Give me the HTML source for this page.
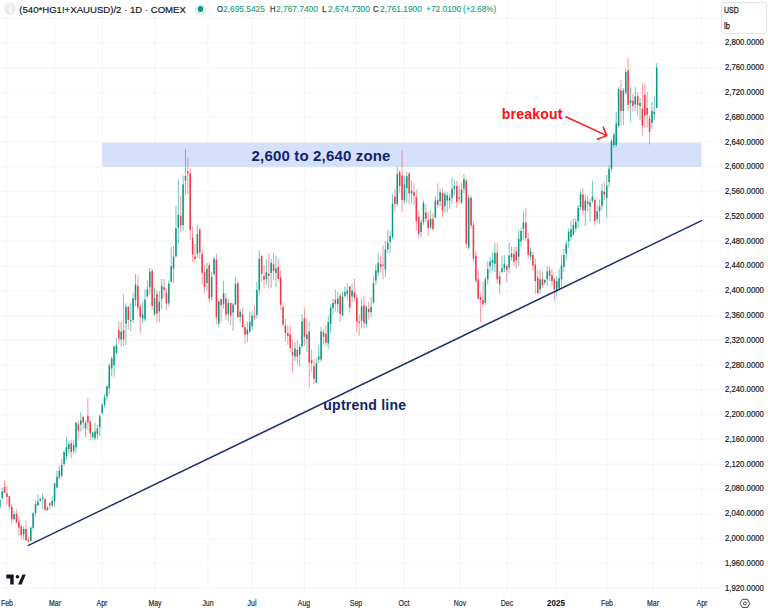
<!DOCTYPE html>
<html><head><meta charset="utf-8"><style>
html,body{margin:0;padding:0;background:#fff;width:768px;height:610px;overflow:hidden;position:relative;font-family:"Liberation Sans",sans-serif;}
</style></head><body>
<svg width="768" height="610" style="position:absolute;left:0;top:0">
<path d="M6.5 0V593 M54.5 0V593 M102.3 0V593 M154.6 0V593 M207.9 0V593 M252.3 0V593 M304.3 0V593 M356.3 0V593 M404.3 0V593 M459.8 0V593 M507.2 0V593 M556.3 0V593 M606.8 0V593 M652.6 0V593 M701.6 0V593 M0 18.22H718 M0 43.00H718 M0 67.78H718 M0 92.56H718 M0 117.34H718 M0 142.12H718 M0 166.90H718 M0 191.68H718 M0 216.46H718 M0 241.24H718 M0 266.02H718 M0 290.80H718 M0 315.58H718 M0 340.36H718 M0 365.14H718 M0 389.92H718 M0 414.70H718 M0 439.48H718 M0 464.26H718 M0 489.04H718 M0 513.82H718 M0 538.60H718 M0 563.38H718 M0 588.16H718" stroke="#f7f7f8" stroke-width="1.3" fill="none"/>
<rect x="102.1" y="142.7" width="599.2" height="24.3" fill="#d5e1fb"/>
<path d="M-0.66 498.90h1.0v9.10h-1.0z M1.72 487.70h1.0v11.80h-1.0z M13.62 511.30h1.0v9.20h-1.0z M23.14 526.40h1.0v13.20h-1.0z M30.28 526.40h1.0v15.10h-1.0z M32.66 512.00h1.0v18.40h-1.0z M35.04 500.20h1.0v16.40h-1.0z M37.42 494.30h1.0v11.70h-1.0z M39.80 497.60h1.0v4.40h-1.0z M42.18 493.00h1.0v16.40h-1.0z M46.94 506.00h1.0v4.70h-1.0z M51.70 495.40h1.0v11.80h-1.0z M54.08 482.60h1.0v23.60h-1.0z M56.46 470.80h1.0v16.70h-1.0z M58.84 465.90h1.0v13.70h-1.0z M61.22 459.00h1.0v18.70h-1.0z M63.60 450.10h1.0v15.80h-1.0z M65.98 437.30h1.0v22.70h-1.0z M68.36 441.30h1.0v12.70h-1.0z M73.11 440.30h1.0v13.70h-1.0z M75.49 422.60h1.0v30.40h-1.0z M80.25 411.70h1.0v19.70h-1.0z M85.01 420.60h1.0v16.70h-1.0z M92.15 431.40h1.0v6.90h-1.0z M94.53 422.60h1.0v17.70h-1.0z M96.91 425.00h1.0v14.40h-1.0z M99.29 414.00h1.0v22.00h-1.0z M101.67 402.90h1.0v11.10h-1.0z M104.05 394.00h1.0v13.30h-1.0z M106.43 385.20h1.0v15.50h-1.0z M108.81 363.00h1.0v31.00h-1.0z M111.19 356.50h1.0v19.90h-1.0z M113.57 345.40h1.0v32.10h-1.0z M115.95 337.70h1.0v16.50h-1.0z M120.71 322.00h1.0v24.50h-1.0z M125.47 303.20h1.0v42.20h-1.0z M130.23 303.20h1.0v27.80h-1.0z M132.61 292.70h1.0v30.00h-1.0z M134.99 274.00h1.0v32.00h-1.0z M142.13 301.80h1.0v20.90h-1.0z M144.51 289.20h1.0v32.10h-1.0z M146.89 280.20h1.0v17.40h-1.0z M149.27 267.70h1.0v27.10h-1.0z M154.03 287.20h1.0v28.50h-1.0z M158.79 291.30h1.0v30.70h-1.0z M161.17 278.90h1.0v29.90h-1.0z M168.31 280.30h1.0v26.40h-1.0z M170.69 246.80h1.0v35.60h-1.0z M173.07 246.10h1.0v36.90h-1.0z M175.45 205.90h1.0v50.50h-1.0z M177.83 179.30h1.0v63.90h-1.0z M182.59 175.40h1.0v55.40h-1.0z M184.97 149.20h1.0v45.20h-1.0z M196.87 224.90h1.0v32.80h-1.0z M206.39 262.90h1.0v28.20h-1.0z M211.15 272.10h1.0v28.60h-1.0z M213.53 256.50h1.0v19.10h-1.0z M218.29 298.50h1.0v28.80h-1.0z M223.05 280.80h1.0v28.00h-1.0z M227.81 299.20h1.0v22.20h-1.0z M232.57 303.00h1.0v28.00h-1.0z M234.95 277.10h1.0v28.00h-1.0z M239.71 309.60h1.0v13.20h-1.0z M246.85 321.40h1.0v20.60h-1.0z M249.23 311.80h1.0v21.40h-1.0z M251.61 311.40h1.0v19.10h-1.0z M256.37 281.90h1.0v36.80h-1.0z M258.75 250.20h1.0v44.20h-1.0z M265.89 259.00h1.0v25.80h-1.0z M270.65 259.00h1.0v28.80h-1.0z M275.41 255.30h1.0v31.70h-1.0z M294.45 341.90h1.0v19.10h-1.0z M299.21 344.10h1.0v22.90h-1.0z M301.59 314.60h1.0v33.20h-1.0z M306.35 318.30h1.0v33.90h-1.0z M315.86 358.80h1.0v24.40h-1.0z M318.24 344.80h1.0v18.50h-1.0z M320.62 327.10h1.0v34.70h-1.0z M327.76 316.10h1.0v33.10h-1.0z M330.14 304.30h1.0v28.90h-1.0z M332.52 298.40h1.0v16.40h-1.0z M337.28 291.90h1.0v20.90h-1.0z M342.04 291.20h1.0v24.90h-1.0z M344.42 286.60h1.0v11.20h-1.0z M346.80 283.30h1.0v17.10h-1.0z M351.56 283.30h1.0v19.10h-1.0z M361.08 298.40h1.0v30.20h-1.0z M365.84 305.00h1.0v22.90h-1.0z M370.60 297.10h1.0v20.30h-1.0z M372.98 276.10h1.0v27.60h-1.0z M375.36 264.80h1.0v19.90h-1.0z M377.74 252.90h1.0v23.00h-1.0z M384.88 241.10h1.0v36.20h-1.0z M387.26 229.90h1.0v23.70h-1.0z M389.64 231.30h1.0v21.60h-1.0z M392.02 194.30h1.0v44.70h-1.0z M396.78 167.20h1.0v39.00h-1.0z M403.92 175.50h1.0v27.90h-1.0z M406.30 172.00h1.0v30.70h-1.0z M411.06 180.40h1.0v23.00h-1.0z M420.58 219.50h1.0v18.10h-1.0z M422.96 200.60h1.0v24.40h-1.0z M430.10 210.30h1.0v18.90h-1.0z M434.86 195.70h1.0v23.00h-1.0z M439.62 188.70h1.0v17.50h-1.0z M444.38 191.50h1.0v21.50h-1.0z M446.76 192.20h1.0v20.20h-1.0z M449.14 193.60h1.0v15.30h-1.0z M451.52 177.50h1.0v26.50h-1.0z M453.90 180.30h1.0v15.30h-1.0z M461.04 183.10h1.0v20.90h-1.0z M463.42 174.00h1.0v19.60h-1.0z M468.18 194.20h1.0v55.50h-1.0z M484.84 276.30h1.0v28.80h-1.0z M487.22 261.50h1.0v22.90h-1.0z M489.60 256.40h1.0v16.90h-1.0z M491.98 252.70h1.0v18.40h-1.0z M494.36 243.10h1.0v28.80h-1.0z M501.50 255.60h1.0v17.70h-1.0z M503.88 254.90h1.0v17.00h-1.0z M508.64 242.40h1.0v30.90h-1.0z M511.02 246.80h1.0v14.00h-1.0z M518.16 230.10h1.0v35.30h-1.0z M520.54 227.50h1.0v19.00h-1.0z M522.92 211.20h1.0v28.40h-1.0z M530.06 247.30h1.0v12.90h-1.0z M539.58 270.60h1.0v23.20h-1.0z M544.34 279.20h1.0v6.00h-1.0z M546.72 266.30h1.0v19.80h-1.0z M556.23 275.70h1.0v20.70h-1.0z M558.61 268.80h1.0v22.40h-1.0z M560.99 255.10h1.0v31.80h-1.0z M563.37 249.10h1.0v23.20h-1.0z M565.75 240.40h1.0v19.80h-1.0z M568.13 228.40h1.0v19.80h-1.0z M570.51 220.70h1.0v19.70h-1.0z M572.89 218.90h1.0v17.20h-1.0z M575.27 218.20h1.0v14.00h-1.0z M577.65 205.00h1.0v23.00h-1.0z M580.03 190.40h1.0v20.20h-1.0z M584.79 194.60h1.0v31.30h-1.0z M589.55 198.70h1.0v23.00h-1.0z M591.93 180.60h1.0v22.30h-1.0z M596.69 205.70h1.0v16.70h-1.0z M599.07 199.40h1.0v24.40h-1.0z M601.45 184.10h1.0v25.80h-1.0z M606.21 175.10h1.0v43.10h-1.0z M608.59 165.30h1.0v22.30h-1.0z M610.97 139.10h1.0v32.50h-1.0z M613.35 132.60h1.0v14.70h-1.0z M615.73 111.80h1.0v35.50h-1.0z M618.11 86.70h1.0v40.60h-1.0z M622.87 88.20h1.0v36.80h-1.0z M625.25 69.00h1.0v25.80h-1.0z M630.01 86.70h1.0v34.70h-1.0z M634.77 86.70h1.0v24.30h-1.0z M639.53 97.80h1.0v22.10h-1.0z M651.43 102.20h1.0v26.50h-1.0z M653.81 96.30h1.0v23.60h-1.0z M656.19 63.10h1.0v45.00h-1.0z" fill="#089981" fill-opacity="0.55"/>
<path d="M4.10 480.50h1.0v12.50h-1.0z M6.48 485.70h1.0v19.10h-1.0z M8.86 495.60h1.0v14.40h-1.0z M11.24 504.10h1.0v19.70h-1.0z M16.00 509.40h1.0v13.70h-1.0z M18.38 516.00h1.0v19.60h-1.0z M20.76 524.50h1.0v15.10h-1.0z M25.52 520.50h1.0v20.40h-1.0z M27.90 536.30h1.0v5.90h-1.0z M44.56 498.20h1.0v13.10h-1.0z M49.32 502.30h1.0v6.90h-1.0z M70.73 440.30h1.0v17.70h-1.0z M77.87 420.60h1.0v17.70h-1.0z M82.63 415.70h1.0v13.70h-1.0z M87.39 398.00h1.0v32.40h-1.0z M89.77 420.60h1.0v19.70h-1.0z M118.33 321.30h1.0v22.30h-1.0z M123.09 294.00h1.0v52.00h-1.0z M127.85 306.00h1.0v23.60h-1.0z M137.37 275.30h1.0v36.20h-1.0z M139.75 303.90h1.0v29.90h-1.0z M151.65 268.40h1.0v41.70h-1.0z M156.41 290.60h1.0v32.10h-1.0z M163.55 278.90h1.0v18.80h-1.0z M165.93 287.90h1.0v22.30h-1.0z M180.21 195.70h1.0v37.10h-1.0z M187.35 157.70h1.0v36.00h-1.0z M189.73 167.50h1.0v72.50h-1.0z M192.11 226.20h1.0v36.10h-1.0z M194.49 243.90h1.0v18.40h-1.0z M199.25 227.50h1.0v31.50h-1.0z M201.63 249.10h1.0v35.40h-1.0z M204.01 265.50h1.0v27.80h-1.0z M208.77 262.90h1.0v39.30h-1.0z M215.91 253.70h1.0v70.60h-1.0z M220.67 298.50h1.0v23.60h-1.0z M225.43 293.30h1.0v26.60h-1.0z M230.19 302.20h1.0v22.80h-1.0z M237.33 280.80h1.0v37.60h-1.0z M242.09 308.10h1.0v19.20h-1.0z M244.47 324.30h1.0v19.20h-1.0z M253.99 305.50h1.0v14.70h-1.0z M261.13 255.30h1.0v26.60h-1.0z M263.51 264.90h1.0v23.60h-1.0z M268.27 253.10h1.0v36.10h-1.0z M273.03 252.40h1.0v28.00h-1.0z M277.79 258.30h1.0v22.80h-1.0z M280.17 270.00h1.0v39.90h-1.0z M282.55 302.50h1.0v24.60h-1.0z M284.93 318.30h1.0v23.60h-1.0z M287.31 325.60h1.0v19.20h-1.0z M289.69 325.60h1.0v26.60h-1.0z M292.07 338.90h1.0v33.90h-1.0z M296.83 339.70h1.0v24.30h-1.0z M303.97 308.00h1.0v37.60h-1.0z M308.73 321.20h1.0v66.40h-1.0z M311.10 349.20h1.0v22.20h-1.0z M313.48 359.60h1.0v25.00h-1.0z M323.00 329.30h1.0v15.50h-1.0z M325.38 324.90h1.0v21.40h-1.0z M334.90 289.20h1.0v22.30h-1.0z M339.66 293.20h1.0v28.80h-1.0z M349.18 286.00h1.0v26.80h-1.0z M353.94 278.80h1.0v22.90h-1.0z M356.32 293.80h1.0v38.70h-1.0z M358.70 314.80h1.0v21.00h-1.0z M363.46 295.80h1.0v32.10h-1.0z M368.22 301.70h1.0v17.70h-1.0z M380.12 255.70h1.0v16.70h-1.0z M382.50 245.30h1.0v34.10h-1.0z M394.40 188.70h1.0v23.00h-1.0z M399.16 170.00h1.0v22.90h-1.0z M401.54 150.40h1.0v62.00h-1.0z M408.68 172.00h1.0v32.80h-1.0z M413.44 183.20h1.0v21.60h-1.0z M415.82 189.40h1.0v41.20h-1.0z M418.20 211.00h1.0v27.30h-1.0z M425.34 204.00h1.0v18.30h-1.0z M427.72 211.70h1.0v23.80h-1.0z M432.48 213.10h1.0v17.90h-1.0z M437.24 183.20h1.0v25.00h-1.0z M442.00 188.00h1.0v29.20h-1.0z M456.28 181.00h1.0v26.50h-1.0z M458.66 185.20h1.0v18.10h-1.0z M465.80 178.20h1.0v70.10h-1.0z M470.56 195.60h1.0v32.80h-1.0z M472.94 220.70h1.0v41.60h-1.0z M475.32 251.20h1.0v32.50h-1.0z M477.70 268.90h1.0v31.00h-1.0z M480.08 292.50h1.0v30.30h-1.0z M482.46 282.20h1.0v25.10h-1.0z M496.74 243.10h1.0v39.90h-1.0z M499.12 271.10h1.0v22.90h-1.0z M506.26 264.50h1.0v17.70h-1.0z M513.40 246.80h1.0v19.20h-1.0z M515.78 246.50h1.0v22.30h-1.0z M525.30 207.70h1.0v33.60h-1.0z M527.68 233.60h1.0v24.90h-1.0z M532.44 251.60h1.0v19.00h-1.0z M534.82 258.50h1.0v35.30h-1.0z M537.20 269.70h1.0v25.00h-1.0z M541.96 271.40h1.0v16.40h-1.0z M549.09 266.30h1.0v14.60h-1.0z M551.47 268.80h1.0v17.30h-1.0z M553.85 277.50h1.0v23.20h-1.0z M582.41 188.30h1.0v26.50h-1.0z M587.17 195.30h1.0v16.00h-1.0z M594.31 197.40h1.0v27.80h-1.0z M603.83 182.00h1.0v18.10h-1.0z M620.49 80.10h1.0v45.70h-1.0z M627.63 58.00h1.0v53.00h-1.0z M632.39 94.10h1.0v17.70h-1.0z M637.15 91.90h1.0v23.60h-1.0z M641.91 83.00h1.0v52.40h-1.0z M644.29 83.80h1.0v43.50h-1.0z M646.67 91.90h1.0v35.40h-1.0z M649.05 115.50h1.0v28.90h-1.0z" fill="#f23645" fill-opacity="0.5"/>
<path d="M-0.91 499.50h1.5v7.90h-1.5z M1.47 491.60h1.5v6.60h-1.5z M13.37 514.00h1.5v5.20h-1.5z M22.89 529.00h1.5v5.30h-1.5z M30.03 527.70h1.5v13.20h-1.5z M32.41 513.30h1.5v14.40h-1.5z M34.79 504.10h1.5v9.20h-1.5z M37.17 501.50h1.5v3.90h-1.5z M39.55 498.90h1.5v1.90h-1.5z M41.93 497.60h1.5v1.30h-1.5z M46.69 508.00h1.5v2.00h-1.5z M51.45 501.30h1.5v3.90h-1.5z M53.83 483.60h1.5v17.70h-1.5z M56.21 476.70h1.5v10.80h-1.5z M58.59 470.80h1.5v6.90h-1.5z M60.97 464.90h1.5v10.80h-1.5z M63.35 452.10h1.5v11.80h-1.5z M65.73 447.20h1.5v8.80h-1.5z M68.11 444.20h1.5v4.90h-1.5z M72.86 445.20h1.5v5.90h-1.5z M75.24 422.60h1.5v24.60h-1.5z M80.00 420.60h1.5v3.90h-1.5z M84.76 422.60h1.5v5.90h-1.5z M91.90 432.40h1.5v4.90h-1.5z M94.28 431.40h1.5v6.90h-1.5z M96.66 428.40h1.5v5.50h-1.5z M99.04 416.20h1.5v11.10h-1.5z M101.42 405.00h1.5v7.90h-1.5z M103.80 397.40h1.5v7.60h-1.5z M106.18 386.30h1.5v10.00h-1.5z M108.56 365.30h1.5v23.20h-1.5z M110.94 358.70h1.5v9.90h-1.5z M113.32 346.50h1.5v18.80h-1.5z M115.70 345.40h1.5v7.70h-1.5z M120.46 331.70h1.5v7.70h-1.5z M125.22 306.70h1.5v16.70h-1.5z M129.98 319.90h1.5v1.40h-1.5z M132.36 298.30h1.5v21.70h-1.5z M134.74 284.40h1.5v15.30h-1.5z M141.88 314.30h1.5v4.20h-1.5z M144.26 299.70h1.5v19.50h-1.5z M146.64 289.20h1.5v7.00h-1.5z M149.02 271.80h1.5v15.40h-1.5z M153.78 298.30h1.5v16.00h-1.5z M158.54 301.80h1.5v9.70h-1.5z M160.92 285.80h1.5v13.20h-1.5z M168.06 283.70h1.5v19.50h-1.5z M170.44 266.30h1.5v15.40h-1.5z M172.82 256.60h1.5v11.80h-1.5z M175.20 228.20h1.5v28.20h-1.5z M177.58 215.00h1.5v12.50h-1.5z M182.34 184.60h1.5v40.30h-1.5z M184.72 176.00h1.5v4.60h-1.5z M196.62 234.00h1.5v19.70h-1.5z M206.14 269.00h1.5v14.00h-1.5z M210.90 277.10h1.5v19.90h-1.5z M213.28 258.70h1.5v15.50h-1.5z M218.04 301.50h1.5v22.10h-1.5z M222.80 293.30h1.5v11.10h-1.5z M227.56 303.00h1.5v11.00h-1.5z M232.32 304.40h1.5v8.10h-1.5z M234.70 283.80h1.5v20.60h-1.5z M239.46 311.80h1.5v5.20h-1.5z M246.60 329.50h1.5v5.10h-1.5z M248.98 322.10h1.5v9.60h-1.5z M251.36 315.80h1.5v10.30h-1.5z M256.12 290.00h1.5v25.00h-1.5z M258.50 259.00h1.5v31.00h-1.5z M265.64 272.30h1.5v6.60h-1.5z M270.40 262.70h1.5v10.30h-1.5z M275.16 268.60h1.5v4.40h-1.5z M294.20 348.50h1.5v8.10h-1.5z M298.96 347.00h1.5v7.40h-1.5z M301.34 321.20h1.5v25.10h-1.5z M306.10 334.50h1.5v4.50h-1.5z M315.61 363.30h1.5v19.10h-1.5z M317.99 356.60h1.5v3.00h-1.5z M320.37 331.50h1.5v28.10h-1.5z M327.51 322.00h1.5v21.30h-1.5z M329.89 307.60h1.5v16.40h-1.5z M332.27 303.00h1.5v5.20h-1.5z M337.03 298.40h1.5v5.90h-1.5z M341.79 296.50h1.5v19.00h-1.5z M344.17 291.90h1.5v3.90h-1.5z M346.55 290.60h1.5v3.20h-1.5z M351.31 290.60h1.5v5.90h-1.5z M360.83 306.30h1.5v14.40h-1.5z M365.59 306.90h1.5v17.10h-1.5z M370.35 307.00h1.5v5.20h-1.5z M372.73 283.30h1.5v19.10h-1.5z M375.11 270.20h1.5v10.50h-1.5z M377.49 262.70h1.5v9.70h-1.5z M384.63 249.40h1.5v20.20h-1.5z M387.01 242.50h1.5v6.90h-1.5z M389.39 236.20h1.5v5.60h-1.5z M391.77 203.40h1.5v33.50h-1.5z M396.53 174.10h1.5v30.00h-1.5z M403.67 184.60h1.5v16.00h-1.5z M406.05 176.20h1.5v11.80h-1.5z M410.81 190.80h1.5v2.80h-1.5z M420.33 222.30h1.5v9.70h-1.5z M422.71 202.80h1.5v19.50h-1.5z M429.85 218.80h1.5v8.40h-1.5z M434.61 200.60h1.5v16.70h-1.5z M439.37 192.20h1.5v9.10h-1.5z M444.13 194.30h1.5v11.90h-1.5z M446.51 195.60h1.5v4.90h-1.5z M448.89 197.70h1.5v2.80h-1.5z M451.27 188.70h1.5v9.00h-1.5z M453.65 185.90h1.5v2.80h-1.5z M460.79 189.40h1.5v13.20h-1.5z M463.17 178.90h1.5v9.80h-1.5z M467.93 197.70h1.5v49.80h-1.5z M484.59 279.20h1.5v23.60h-1.5z M486.97 268.90h1.5v10.30h-1.5z M489.35 261.50h1.5v4.50h-1.5z M491.73 260.10h1.5v2.90h-1.5z M494.11 252.70h1.5v11.10h-1.5z M501.25 268.20h1.5v3.70h-1.5z M503.63 263.80h1.5v4.40h-1.5z M508.39 255.60h1.5v11.80h-1.5z M510.77 253.40h1.5v3.70h-1.5z M517.91 238.70h1.5v18.10h-1.5z M520.29 231.00h1.5v10.30h-1.5z M522.67 222.40h1.5v6.00h-1.5z M529.81 251.60h1.5v5.20h-1.5z M539.33 279.20h1.5v10.30h-1.5z M544.09 280.00h1.5v2.60h-1.5z M546.47 271.40h1.5v7.80h-1.5z M555.98 280.90h1.5v10.30h-1.5z M558.36 278.30h1.5v10.30h-1.5z M560.74 265.40h1.5v13.80h-1.5z M563.12 255.10h1.5v12.00h-1.5z M565.50 243.90h1.5v9.50h-1.5z M567.88 231.80h1.5v9.50h-1.5z M570.26 229.30h1.5v7.70h-1.5z M572.64 225.00h1.5v9.40h-1.5z M575.02 221.70h1.5v7.00h-1.5z M577.40 207.80h1.5v13.20h-1.5z M579.78 193.90h1.5v13.20h-1.5z M584.54 200.80h1.5v9.80h-1.5z M589.30 202.20h1.5v4.20h-1.5z M591.68 196.70h1.5v4.10h-1.5z M596.44 211.30h1.5v7.60h-1.5z M598.82 206.40h1.5v4.90h-1.5z M601.20 191.10h1.5v14.60h-1.5z M605.96 185.50h1.5v12.50h-1.5z M608.34 168.80h1.5v13.20h-1.5z M610.72 141.00h1.5v27.80h-1.5z M613.10 134.60h1.5v10.40h-1.5z M615.48 123.60h1.5v21.40h-1.5z M617.86 88.90h1.5v36.90h-1.5z M622.62 90.40h1.5v20.60h-1.5z M625.00 72.00h1.5v20.60h-1.5z M629.76 100.00h1.5v2.90h-1.5z M634.52 96.30h1.5v8.10h-1.5z M639.28 102.90h1.5v3.00h-1.5z M651.18 111.00h1.5v11.80h-1.5z M653.56 111.80h1.5v2.20h-1.5z M655.94 67.50h1.5v40.60h-1.5z" fill="#089981"/>
<path d="M3.85 487.00h1.5v6.00h-1.5z M6.23 493.60h1.5v3.30h-1.5z M8.61 496.20h1.5v10.50h-1.5z M10.99 506.70h1.5v12.50h-1.5z M15.75 514.00h1.5v8.50h-1.5z M18.13 521.80h1.5v5.90h-1.5z M20.51 526.40h1.5v8.60h-1.5z M25.27 529.00h1.5v11.20h-1.5z M27.65 539.60h1.5v1.90h-1.5z M44.31 498.90h1.5v10.50h-1.5z M49.07 503.30h1.5v1.90h-1.5z M70.48 443.20h1.5v8.90h-1.5z M77.62 424.50h1.5v5.90h-1.5z M82.38 416.70h1.5v5.90h-1.5z M87.14 415.70h1.5v6.90h-1.5z M89.52 421.60h1.5v11.80h-1.5z M118.08 330.30h1.5v8.40h-1.5z M122.84 330.30h1.5v9.10h-1.5z M127.60 306.70h1.5v13.30h-1.5z M137.12 285.80h1.5v21.60h-1.5z M139.50 306.70h1.5v10.40h-1.5z M151.40 271.10h1.5v34.90h-1.5z M156.16 294.10h1.5v19.50h-1.5z M163.30 287.20h1.5v2.80h-1.5z M165.68 292.80h1.5v10.40h-1.5z M179.96 215.70h1.5v9.90h-1.5z M187.10 171.50h1.5v1.90h-1.5z M189.48 173.40h1.5v56.70h-1.5z M191.86 237.40h1.5v17.00h-1.5z M194.24 256.40h1.5v2.60h-1.5z M199.00 229.50h1.5v22.90h-1.5z M201.38 253.70h1.5v19.00h-1.5z M203.76 272.00h1.5v14.70h-1.5z M208.52 265.30h1.5v33.20h-1.5z M215.66 259.40h1.5v57.60h-1.5z M220.42 299.20h1.5v5.90h-1.5z M225.18 298.50h1.5v16.20h-1.5z M229.94 303.00h1.5v12.50h-1.5z M237.08 283.00h1.5v34.00h-1.5z M241.84 314.00h1.5v13.30h-1.5z M244.22 327.30h1.5v7.30h-1.5z M253.74 315.80h1.5v1.50h-1.5z M260.88 256.10h1.5v17.70h-1.5z M263.26 276.00h1.5v3.70h-1.5z M268.02 273.80h1.5v2.20h-1.5z M272.78 264.20h1.5v6.60h-1.5z M277.54 267.10h1.5v11.80h-1.5z M279.92 277.40h1.5v27.30h-1.5z M282.30 307.00h1.5v17.20h-1.5z M284.68 325.60h1.5v7.40h-1.5z M287.06 333.00h1.5v3.00h-1.5z M289.44 334.50h1.5v13.30h-1.5z M291.82 352.20h1.5v2.90h-1.5z M296.58 350.00h1.5v6.60h-1.5z M303.72 318.30h1.5v18.40h-1.5z M308.48 331.50h1.5v31.00h-1.5z M310.85 360.30h1.5v3.00h-1.5z M313.23 366.20h1.5v12.50h-1.5z M322.75 332.30h1.5v4.40h-1.5z M325.13 333.80h1.5v8.80h-1.5z M334.65 299.70h1.5v4.00h-1.5z M339.41 295.80h1.5v18.30h-1.5z M348.93 286.60h1.5v21.00h-1.5z M353.69 292.50h1.5v5.30h-1.5z M356.07 297.80h1.5v23.60h-1.5z M358.45 321.40h1.5v1.30h-1.5z M363.21 305.60h1.5v17.10h-1.5z M367.97 308.90h1.5v3.30h-1.5z M379.87 264.00h1.5v2.90h-1.5z M382.25 264.65h1.5v1.00h-1.5z M394.15 196.40h1.5v7.70h-1.5z M398.91 172.00h1.5v14.00h-1.5z M401.29 175.50h1.5v24.40h-1.5z M408.43 173.40h1.5v20.20h-1.5z M413.19 192.20h1.5v3.50h-1.5z M415.57 197.10h1.5v23.80h-1.5z M417.95 216.70h1.5v17.40h-1.5z M425.09 212.40h1.5v6.30h-1.5z M427.47 220.20h1.5v7.70h-1.5z M432.23 218.70h1.5v10.30h-1.5z M436.99 199.90h1.5v4.90h-1.5z M441.75 192.90h1.5v18.10h-1.5z M456.03 185.90h1.5v16.00h-1.5z M458.41 197.70h1.5v1.40h-1.5z M465.55 181.00h1.5v62.80h-1.5z M470.31 197.70h1.5v27.90h-1.5z M472.69 224.90h1.5v33.70h-1.5z M475.07 255.60h1.5v25.10h-1.5z M477.45 279.20h1.5v19.20h-1.5z M479.83 297.00h1.5v2.90h-1.5z M482.21 299.90h1.5v4.40h-1.5z M496.49 252.70h1.5v26.50h-1.5z M498.87 276.30h1.5v8.10h-1.5z M506.01 266.00h1.5v3.70h-1.5z M513.15 254.20h1.5v7.30h-1.5z M515.53 251.60h1.5v8.60h-1.5z M525.05 222.40h1.5v15.50h-1.5z M527.43 238.70h1.5v16.40h-1.5z M532.19 255.10h1.5v10.30h-1.5z M534.57 264.50h1.5v16.40h-1.5z M536.95 277.50h1.5v15.40h-1.5z M541.71 279.20h1.5v6.00h-1.5z M548.84 270.60h1.5v5.10h-1.5z M551.22 274.90h1.5v6.00h-1.5z M553.60 279.20h1.5v10.30h-1.5z M582.16 194.60h1.5v16.00h-1.5z M586.92 201.50h1.5v2.80h-1.5z M594.06 200.10h1.5v20.90h-1.5z M603.58 191.80h1.5v2.80h-1.5z M620.24 90.40h1.5v20.60h-1.5z M627.38 70.50h1.5v34.60h-1.5z M632.14 100.70h1.5v5.20h-1.5z M636.90 96.30h1.5v8.80h-1.5z M641.66 108.80h1.5v17.00h-1.5z M644.04 94.80h1.5v20.70h-1.5z M646.42 108.10h1.5v6.60h-1.5z M648.80 118.40h1.5v13.30h-1.5z" fill="#f23645"/>
<line x1="28.4" y1="545.4" x2="701.6" y2="220.7" stroke="#1c2f6c" stroke-width="1.45" stroke-linecap="round"/>
<path d="M565.8 116.7L606.8 135.6M603.4 127.1L606.8 135.6L597.4 139.3" stroke="#ff1a1a" stroke-width="1.5" fill="none" stroke-linecap="round" stroke-linejoin="round"/>
<g transform="translate(744.9,603.4)" fill="none" stroke="#2a2e39" stroke-width="0.85">
<path d="M-2.6 -4.1H2.6L4.8 0L2.6 4.1H-2.6L-4.8 0Z"/><circle r="1.5"/></g>
</svg>
<svg width="14" height="14" style="position:absolute;left:3.4px;top:2px" viewBox="0 0 14 14"><circle cx="6.95" cy="7" r="5.9" fill="#ebebeb"/><path d="M8.2 3.9Q6.2 7.4 8.2 11" stroke="#fff" stroke-width="1.1" fill="none" stroke-linecap="round"/></svg>
<div style="position:absolute;left:19.30px;top:4.57px;font-size:9.6px;line-height:9.6px;font-weight:normal;color:#131722;white-space:nowrap;-webkit-text-stroke:0.18px #131722;">(540*HG1!+XAUUSD)/2 · 1D · COMEX</div>

<div style="position:absolute;left:195px;top:3.5px;width:11px;height:11px;border-radius:50%;background:rgba(8,153,129,0.15)"></div>
<div style="position:absolute;left:197.8px;top:6.3px;width:5.5px;height:5.5px;border-radius:50%;background:#089981"></div>
<div style="position:absolute;left:216.50px;top:4.98px;font-size:9px;line-height:9px;font-weight:normal;color:#3a3d47;white-space:nowrap;transform:scaleX(0.85);transform-origin:0 0;-webkit-text-stroke:0.25px #3a3d47;">O</div>
<div style="position:absolute;left:223.20px;top:4.98px;font-size:9px;line-height:9px;font-weight:normal;color:#089981;white-space:nowrap;transform:scaleX(0.93);transform-origin:0 0;-webkit-text-stroke:0.08px #089981;">2,695.5425</div>
<div style="position:absolute;left:269.80px;top:4.98px;font-size:9px;line-height:9px;font-weight:normal;color:#3a3d47;white-space:nowrap;transform:scaleX(0.85);transform-origin:0 0;-webkit-text-stroke:0.25px #3a3d47;">H</div>
<div style="position:absolute;left:276.00px;top:4.98px;font-size:9px;line-height:9px;font-weight:normal;color:#089981;white-space:nowrap;transform:scaleX(0.93);transform-origin:0 0;-webkit-text-stroke:0.08px #089981;">2,767.7400</div>
<div style="position:absolute;left:322.40px;top:4.98px;font-size:9px;line-height:9px;font-weight:normal;color:#3a3d47;white-space:nowrap;transform:scaleX(0.95);transform-origin:0 0;-webkit-text-stroke:0.25px #3a3d47;">L</div>
<div style="position:absolute;left:328.00px;top:4.98px;font-size:9px;line-height:9px;font-weight:normal;color:#089981;white-space:nowrap;transform:scaleX(0.93);transform-origin:0 0;-webkit-text-stroke:0.08px #089981;">2,674.7300</div>
<div style="position:absolute;left:373.10px;top:4.98px;font-size:9px;line-height:9px;font-weight:normal;color:#3a3d47;white-space:nowrap;transform:scaleX(0.85);transform-origin:0 0;-webkit-text-stroke:0.25px #3a3d47;">C</div>
<div style="position:absolute;left:379.50px;top:4.98px;font-size:9px;line-height:9px;font-weight:normal;color:#089981;white-space:nowrap;transform:scaleX(0.93);transform-origin:0 0;-webkit-text-stroke:0.08px #089981;">2,761.1900</div>
<div style="position:absolute;left:425.80px;top:4.98px;font-size:9px;line-height:9px;font-weight:normal;color:#089981;white-space:nowrap;transform:scaleX(0.93);transform-origin:0 0;-webkit-text-stroke:0.08px #089981;">+72.0100</div>
<div style="position:absolute;left:463.00px;top:4.98px;font-size:9px;line-height:9px;font-weight:normal;color:#089981;white-space:nowrap;transform:scaleX(0.9);transform-origin:0 0;-webkit-text-stroke:0.08px #089981;">(+2.68%)</div>

<div style="position:absolute;left:721.3px;top:1.6px;width:45.7px;height:32.3px;border:1px solid #e0e3eb;border-radius:3px;box-sizing:border-box"></div>
<div style="position:absolute;left:723.60px;top:5.85px;font-size:8.8px;line-height:8.8px;font-weight:normal;color:#131722;white-space:nowrap;transform:scaleX(0.8);transform-origin:0 0;-webkit-text-stroke:0.25px #131722;">USD</div>

<div style="position:absolute;left:723.80px;top:21.55px;font-size:8.8px;line-height:8.8px;font-weight:normal;color:#131722;white-space:nowrap;transform:scaleX(0.85);transform-origin:0 0;-webkit-text-stroke:0.25px #131722;">lb</div>

<div style="position:absolute;right:4.20px;top:37.39px;font-size:9.4px;line-height:9.4px;font-weight:normal;color:#131722;white-space:nowrap;transform:scaleX(0.83);transform-origin:100% 0;-webkit-text-stroke:0.2px #131722;">2,800.0000</div>
<div style="position:absolute;right:4.20px;top:62.17px;font-size:9.4px;line-height:9.4px;font-weight:normal;color:#131722;white-space:nowrap;transform:scaleX(0.83);transform-origin:100% 0;-webkit-text-stroke:0.2px #131722;">2,760.0000</div>
<div style="position:absolute;right:4.20px;top:86.95px;font-size:9.4px;line-height:9.4px;font-weight:normal;color:#131722;white-space:nowrap;transform:scaleX(0.83);transform-origin:100% 0;-webkit-text-stroke:0.2px #131722;">2,720.0000</div>
<div style="position:absolute;right:4.20px;top:111.73px;font-size:9.4px;line-height:9.4px;font-weight:normal;color:#131722;white-space:nowrap;transform:scaleX(0.83);transform-origin:100% 0;-webkit-text-stroke:0.2px #131722;">2,680.0000</div>
<div style="position:absolute;right:4.20px;top:136.51px;font-size:9.4px;line-height:9.4px;font-weight:normal;color:#131722;white-space:nowrap;transform:scaleX(0.83);transform-origin:100% 0;-webkit-text-stroke:0.2px #131722;">2,640.0000</div>
<div style="position:absolute;right:4.20px;top:161.29px;font-size:9.4px;line-height:9.4px;font-weight:normal;color:#131722;white-space:nowrap;transform:scaleX(0.83);transform-origin:100% 0;-webkit-text-stroke:0.2px #131722;">2,600.0000</div>
<div style="position:absolute;right:4.20px;top:186.07px;font-size:9.4px;line-height:9.4px;font-weight:normal;color:#131722;white-space:nowrap;transform:scaleX(0.83);transform-origin:100% 0;-webkit-text-stroke:0.2px #131722;">2,560.0000</div>
<div style="position:absolute;right:4.20px;top:210.85px;font-size:9.4px;line-height:9.4px;font-weight:normal;color:#131722;white-space:nowrap;transform:scaleX(0.83);transform-origin:100% 0;-webkit-text-stroke:0.2px #131722;">2,520.0000</div>
<div style="position:absolute;right:4.20px;top:235.63px;font-size:9.4px;line-height:9.4px;font-weight:normal;color:#131722;white-space:nowrap;transform:scaleX(0.83);transform-origin:100% 0;-webkit-text-stroke:0.2px #131722;">2,480.0000</div>
<div style="position:absolute;right:4.20px;top:260.41px;font-size:9.4px;line-height:9.4px;font-weight:normal;color:#131722;white-space:nowrap;transform:scaleX(0.83);transform-origin:100% 0;-webkit-text-stroke:0.2px #131722;">2,440.0000</div>
<div style="position:absolute;right:4.20px;top:285.19px;font-size:9.4px;line-height:9.4px;font-weight:normal;color:#131722;white-space:nowrap;transform:scaleX(0.83);transform-origin:100% 0;-webkit-text-stroke:0.2px #131722;">2,400.0000</div>
<div style="position:absolute;right:4.20px;top:309.97px;font-size:9.4px;line-height:9.4px;font-weight:normal;color:#131722;white-space:nowrap;transform:scaleX(0.83);transform-origin:100% 0;-webkit-text-stroke:0.2px #131722;">2,360.0000</div>
<div style="position:absolute;right:4.20px;top:334.75px;font-size:9.4px;line-height:9.4px;font-weight:normal;color:#131722;white-space:nowrap;transform:scaleX(0.83);transform-origin:100% 0;-webkit-text-stroke:0.2px #131722;">2,320.0000</div>
<div style="position:absolute;right:4.20px;top:359.53px;font-size:9.4px;line-height:9.4px;font-weight:normal;color:#131722;white-space:nowrap;transform:scaleX(0.83);transform-origin:100% 0;-webkit-text-stroke:0.2px #131722;">2,280.0000</div>
<div style="position:absolute;right:4.20px;top:384.31px;font-size:9.4px;line-height:9.4px;font-weight:normal;color:#131722;white-space:nowrap;transform:scaleX(0.83);transform-origin:100% 0;-webkit-text-stroke:0.2px #131722;">2,240.0000</div>
<div style="position:absolute;right:4.20px;top:409.09px;font-size:9.4px;line-height:9.4px;font-weight:normal;color:#131722;white-space:nowrap;transform:scaleX(0.83);transform-origin:100% 0;-webkit-text-stroke:0.2px #131722;">2,200.0000</div>
<div style="position:absolute;right:4.20px;top:433.87px;font-size:9.4px;line-height:9.4px;font-weight:normal;color:#131722;white-space:nowrap;transform:scaleX(0.83);transform-origin:100% 0;-webkit-text-stroke:0.2px #131722;">2,160.0000</div>
<div style="position:absolute;right:4.20px;top:458.65px;font-size:9.4px;line-height:9.4px;font-weight:normal;color:#131722;white-space:nowrap;transform:scaleX(0.83);transform-origin:100% 0;-webkit-text-stroke:0.2px #131722;">2,120.0000</div>
<div style="position:absolute;right:4.20px;top:483.43px;font-size:9.4px;line-height:9.4px;font-weight:normal;color:#131722;white-space:nowrap;transform:scaleX(0.83);transform-origin:100% 0;-webkit-text-stroke:0.2px #131722;">2,080.0000</div>
<div style="position:absolute;right:4.20px;top:508.21px;font-size:9.4px;line-height:9.4px;font-weight:normal;color:#131722;white-space:nowrap;transform:scaleX(0.83);transform-origin:100% 0;-webkit-text-stroke:0.2px #131722;">2,040.0000</div>
<div style="position:absolute;right:4.20px;top:532.99px;font-size:9.4px;line-height:9.4px;font-weight:normal;color:#131722;white-space:nowrap;transform:scaleX(0.83);transform-origin:100% 0;-webkit-text-stroke:0.2px #131722;">2,000.0000</div>
<div style="position:absolute;right:4.20px;top:557.77px;font-size:9.4px;line-height:9.4px;font-weight:normal;color:#131722;white-space:nowrap;transform:scaleX(0.83);transform-origin:100% 0;-webkit-text-stroke:0.2px #131722;">1,960.0000</div>
<div style="position:absolute;right:4.20px;top:582.55px;font-size:9.4px;line-height:9.4px;font-weight:normal;color:#131722;white-space:nowrap;transform:scaleX(0.83);transform-origin:100% 0;-webkit-text-stroke:0.2px #131722;">1,920.0000</div>

<div style="position:absolute;left:-93.50px;width:200px;text-align:center;top:598.64px;font-size:8.7px;line-height:8.7px;font-weight:normal;color:#2a2e39;white-space:nowrap;transform:scaleX(0.8);transform-origin:50% 0;-webkit-text-stroke:0.2px #2a2e39;">Feb</div>
<div style="position:absolute;left:-45.50px;width:200px;text-align:center;top:598.64px;font-size:8.7px;line-height:8.7px;font-weight:normal;color:#2a2e39;white-space:nowrap;transform:scaleX(0.8);transform-origin:50% 0;-webkit-text-stroke:0.2px #2a2e39;">Mar</div>
<div style="position:absolute;left:2.30px;width:200px;text-align:center;top:598.64px;font-size:8.7px;line-height:8.7px;font-weight:normal;color:#2a2e39;white-space:nowrap;transform:scaleX(0.8);transform-origin:50% 0;-webkit-text-stroke:0.2px #2a2e39;">Apr</div>
<div style="position:absolute;left:54.60px;width:200px;text-align:center;top:598.64px;font-size:8.7px;line-height:8.7px;font-weight:normal;color:#2a2e39;white-space:nowrap;transform:scaleX(0.8);transform-origin:50% 0;-webkit-text-stroke:0.2px #2a2e39;">May</div>
<div style="position:absolute;left:107.90px;width:200px;text-align:center;top:598.64px;font-size:8.7px;line-height:8.7px;font-weight:normal;color:#2a2e39;white-space:nowrap;transform:scaleX(0.8);transform-origin:50% 0;-webkit-text-stroke:0.2px #2a2e39;">Jun</div>
<div style="position:absolute;left:152.30px;width:200px;text-align:center;top:598.64px;font-size:8.7px;line-height:8.7px;font-weight:normal;color:#2a2e39;white-space:nowrap;transform:scaleX(0.8);transform-origin:50% 0;-webkit-text-stroke:0.2px #2a2e39;">Jul</div>
<div style="position:absolute;left:204.30px;width:200px;text-align:center;top:598.64px;font-size:8.7px;line-height:8.7px;font-weight:normal;color:#2a2e39;white-space:nowrap;transform:scaleX(0.8);transform-origin:50% 0;-webkit-text-stroke:0.2px #2a2e39;">Aug</div>
<div style="position:absolute;left:256.30px;width:200px;text-align:center;top:598.64px;font-size:8.7px;line-height:8.7px;font-weight:normal;color:#2a2e39;white-space:nowrap;transform:scaleX(0.8);transform-origin:50% 0;-webkit-text-stroke:0.2px #2a2e39;">Sep</div>
<div style="position:absolute;left:304.30px;width:200px;text-align:center;top:598.64px;font-size:8.7px;line-height:8.7px;font-weight:normal;color:#2a2e39;white-space:nowrap;transform:scaleX(0.8);transform-origin:50% 0;-webkit-text-stroke:0.2px #2a2e39;">Oct</div>
<div style="position:absolute;left:359.80px;width:200px;text-align:center;top:598.64px;font-size:8.7px;line-height:8.7px;font-weight:normal;color:#2a2e39;white-space:nowrap;transform:scaleX(0.8);transform-origin:50% 0;-webkit-text-stroke:0.2px #2a2e39;">Nov</div>
<div style="position:absolute;left:407.20px;width:200px;text-align:center;top:598.64px;font-size:8.7px;line-height:8.7px;font-weight:normal;color:#2a2e39;white-space:nowrap;transform:scaleX(0.8);transform-origin:50% 0;-webkit-text-stroke:0.2px #2a2e39;">Dec</div>
<div style="position:absolute;left:456.30px;width:200px;text-align:center;top:598.64px;font-size:8.7px;line-height:8.7px;font-weight:bold;color:#131722;white-space:nowrap;transform:scaleX(0.92);transform-origin:50% 0;-webkit-text-stroke:0.1px #131722;">2025</div>
<div style="position:absolute;left:506.80px;width:200px;text-align:center;top:598.64px;font-size:8.7px;line-height:8.7px;font-weight:normal;color:#2a2e39;white-space:nowrap;transform:scaleX(0.8);transform-origin:50% 0;-webkit-text-stroke:0.2px #2a2e39;">Feb</div>
<div style="position:absolute;left:552.60px;width:200px;text-align:center;top:598.64px;font-size:8.7px;line-height:8.7px;font-weight:normal;color:#2a2e39;white-space:nowrap;transform:scaleX(0.8);transform-origin:50% 0;-webkit-text-stroke:0.2px #2a2e39;">Mar</div>
<div style="position:absolute;left:601.60px;width:200px;text-align:center;top:598.64px;font-size:8.7px;line-height:8.7px;font-weight:normal;color:#2a2e39;white-space:nowrap;transform:scaleX(0.8);transform-origin:50% 0;-webkit-text-stroke:0.2px #2a2e39;">Apr</div>

<div style="position:absolute;left:251.60px;top:147.90px;font-size:15px;line-height:15px;font-weight:bold;color:#10246b;white-space:nowrap;letter-spacing:0.16px;">2,600 to 2,640 zone</div>

<div style="position:absolute;left:501.80px;top:106.85px;font-size:14px;line-height:14px;font-weight:bold;color:#fa0f0f;white-space:nowrap;letter-spacing:0.2px;">breakout</div>

<div style="position:absolute;left:323.30px;top:398.35px;font-size:14px;line-height:14px;font-weight:bold;color:#10246b;white-space:nowrap;letter-spacing:0.24px;">uptrend line</div>

<svg width="30" height="20" style="position:absolute;left:0;top:570px" viewBox="0 570 30 20"><path d="M6.3 574.6H13.7V584.4H10.2V578.5H6.3Z M22.5 574.6H25.8L21.6 584.4H18Z" fill="#131722"/><circle cx="17.4" cy="576.8" r="1.8" fill="#131722"/></svg>
</body></html>
